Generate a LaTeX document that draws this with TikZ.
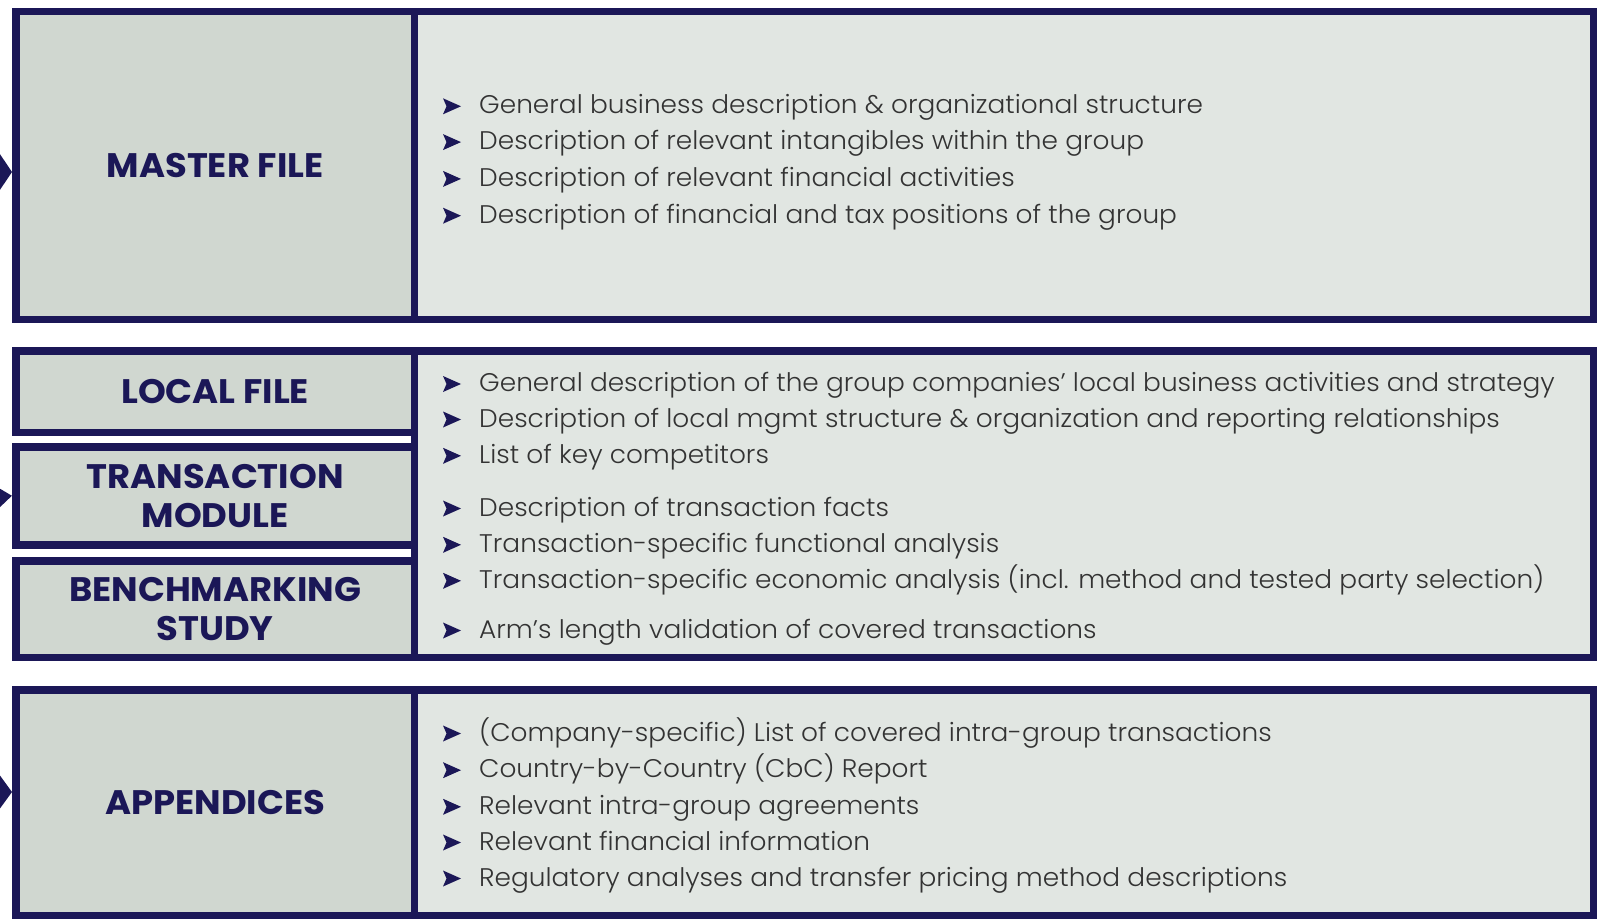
\documentclass[tikz,border=0pt]{standalone}
\usepackage{fontspec}
\usetikzlibrary{arrows.meta}
\definecolor{navy}{HTML}{1B1757}
\definecolor{leftfill}{HTML}{D0D7D0}
\definecolor{rightfill}{HTML}{E1E6E2}
\definecolor{bodytext}{HTML}{333333}
\IfFontExistsTF{Poppins Light}{\newfontfamily\bodyfont{Poppins Light}[FakeStretch=1.035]}{\newfontfamily\bodyfont{Poppins}[FakeStretch=1.035]}
\IfFontExistsTF{Poppins Bold}{\newfontfamily\labelfont{Poppins Bold}[FakeStretch=1.04]}{\newfontfamily\labelfont{Poppins}[FakeStretch=1.04]}
\newcommand\bitem[3]{%
  \node[itm] (#1) at (479,#2) {#3};
  \fill[navy] (443,#2+0.5) -- (461,#2-7.5) -- (443,#2-15.5) -- (446.5,#2-7.5) -- cycle;}
\tikzset{
  lbox/.style={draw=navy, line width=7.5pt, fill=leftfill, minimum width=398.75pt,
    inner sep=0pt, text=navy, align=center,
    font=\labelfont\fontsize{34}{38.8}\selectfont},
  rbox/.style={draw=navy, line width=7.5pt, fill=rightfill, minimum width=1178.75pt, inner sep=0pt},
  itm/.style={anchor=base west, inner sep=0pt, text=bodytext,
    font=\bodyfont\fontsize{25.5}{30}\selectfont},
  inarrow/.style={draw=navy, line width=5pt}
}
\begin{document}
\begin{tikzpicture}[x=1pt,y=-1pt]
\useasboundingbox (0,0) rectangle (1603,920);
\fill[white] (0,0) rectangle (1603,920);
% right boxes
\node[rbox, minimum height=307.5pt] (mfr) at (1003.875,165.5) {};
\node[rbox, minimum height=306.5pt] (lfr) at (1003.875,504) {};
\node[rbox, minimum height=225.5pt] (apr) at (1003.875,802.5) {};
% left boxes
\node[lbox, minimum height=307.5pt] (mfl) at (215.125,165.5) {MASTER FILE};
\node[lbox, minimum height=81.5pt] (lfl) at (215.125,391.5) {LOCAL FILE};
\node[lbox, minimum height=98pt] (tml) at (215.125,495.75) {TRANSACTION\\MODULE};
\node[lbox, minimum height=96.5pt] (bsl) at (215.125,609) {BENCHMARKING\\STUDY};
\node[lbox, minimum height=225.5pt] (apl) at (215.125,802.5) {APPENDICES};
% incoming arrows (cut by the left edge)
\coordinate (srcm) at (-60,172);
\coordinate (srct) at (-60,504);
\coordinate (srca) at (-60,792);
\begin{scope}
\clip (0,0) rectangle (1603,920);
\draw[inarrow, -{Triangle[length=13pt,width=38pt]}] (srcm) -- ([yshift=-6.5pt]mfl.west);
\draw[inarrow, -{Triangle[length=14pt,width=20pt]}] (srct) -- (tml.west);
\draw[inarrow, -{Triangle[length=13pt,width=35pt]}] (srca) -- ([yshift=10.5pt]apl.west);
\end{scope}
% master file items
\bitem{m1}{113.8}{General business description \& organizational structure}
\bitem{m2}{149.6}{Description of relevant intangibles within the group}
\bitem{m3}{186.4}{Description of relevant financial activities}
\bitem{m4}{223.2}{Description of financial and tax positions of the group}
% local file / transaction / benchmarking items
\bitem{l1}{391.5}{General description of the group companies’ local business activities and strategy}
\bitem{l2}{427}{Description of local mgmt structure \& organization and reporting relationships}
\bitem{l3}{463.3}{List of key competitors}
\bitem{t1}{516}{Description of transaction facts}
\bitem{t2}{552.3}{Transaction-specific functional analysis}
\bitem{t3}{588.3}{Transaction-specific economic analysis (incl. method and tested party selection)}
\bitem{b1}{638}{Arm’s length validation of covered transactions}
% appendices items
\bitem{a1}{741}{(Company-specific) List of covered intra-group transactions}
\bitem{a2}{777.7}{Country-by-Country (CbC) Report}
\bitem{a3}{814.3}{Relevant intra-group agreements}
\bitem{a4}{850}{Relevant financial information}
\bitem{a5}{886}{Regulatory analyses and transfer pricing method descriptions}
\end{tikzpicture}
\end{document}
